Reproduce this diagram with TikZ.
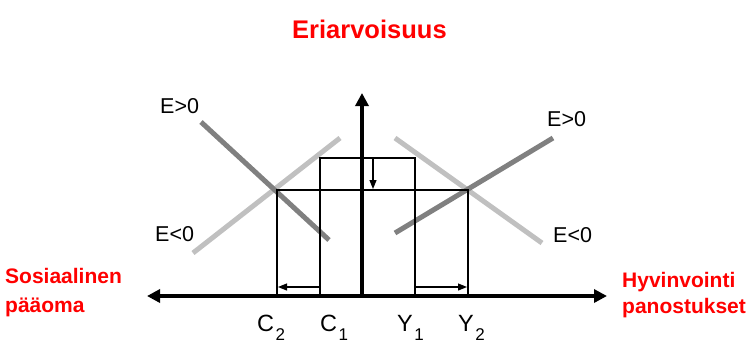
\documentclass[tikz,border=0pt]{standalone}
\usepackage{fontspec}
\setmainfont{Liberation Sans}
\usetikzlibrary{arrows.meta}
\definecolor{darkg}{HTML}{808080}
\definecolor{lightg}{HTML}{C0C0C0}
\definecolor{myred}{HTML}{FF0000}
\tikzset{
  axis/.style={line width=3.5pt,-{Triangle[length=13pt,width=13pt]}},
  thin/.style={line width=1.1pt},
  small/.style={line width=1.1pt,-{Triangle[length=9pt,width=7pt]}},
  dline/.style={line width=5pt,darkg},
  lline/.style={line width=5pt,lightg},
  lbl/.style={inner sep=0pt,anchor=base west,font=\fontsize{21.5}{21.5}\selectfont},
  redlbl/.style={inner sep=0pt,anchor=base west,text=myred,font=\fontsize{21}{21}\selectfont\bfseries},
  ax/.style={inner sep=0pt,anchor=base west,font=\fontsize{23.5}{23.5}\selectfont},
}
\newcommand{\subl}[1]{\hspace{1.5pt}\raisebox{-9pt}{\fontsize{17}{17}\selectfont #1}}
\begin{document}
\begin{tikzpicture}[x=1pt,y=-1pt]
\useasboundingbox (0,0) rectangle (756,341);
% coordinates
\coordinate (O) at (362,296);
\coordinate (Vt) at (362,93);
\coordinate (Hl) at (147,296);
\coordinate (Hr) at (607,296);
\coordinate (c2b) at (277,296);
\coordinate (c2t) at (277,190);
\coordinate (c1b) at (320,296);
\coordinate (c1t) at (320,158);
\coordinate (y1b) at (415,296);
\coordinate (y1t) at (415,158);
\coordinate (y2b) at (468,296);
\coordinate (y2t) at (468,190);
\coordinate (la1) at (320,287);
\coordinate (la2) at (278,287);
\coordinate (ra1) at (415,287);
\coordinate (ra2) at (467,287);
\coordinate (da1) at (373,158);
\coordinate (da2) at (373,189);
% gray lines
\coordinate (ld1) at (201,122);
\coordinate (ld2) at (329,240);
\coordinate (ll1) at (193,253);
\coordinate (ll2) at (340,138);
\coordinate (rl1) at (395,138);
\coordinate (rl2) at (542,243);
\coordinate (rd1) at (395,233);
\coordinate (rd2) at (553,138);
\draw[lline] (ll1) -- (ll2);
\draw[dline] (ld1) -- (ld2);
\draw[lline] (rl1) -- (rl2);
\draw[dline] (rd1) -- (rd2);
% boxes
\draw[thin] (c1b) -- (c1t) -- (y1t) -- (y1b);
\draw[thin] (c2b) -- (c2t) -- (y2t) -- (y2b);
% small arrows
\draw[small] (la1) -- (la2);
\draw[small] (ra1) -- (ra2);
\draw[small] (da1) -- (da2);
% axes
\draw[axis] (O) -- (Vt);
\draw[axis] (O) -- (Hl);
\draw[axis] (O) -- (Hr);
% labels
\node[redlbl,font=\fontsize{25.5}{25.5}\selectfont\bfseries] (title) at (292,38) {Eriarvoisuus};
\node[redlbl] (sos) at (5,283) {Sosiaalinen};
\node[redlbl] (paa) at (5,312) {pääoma};
\node[redlbl] (hyv) at (622,287) {Hyvinvointi};
\node[redlbl] (pan) at (622,313) {panostukset};
\node[lbl] (e1) at (160,113) {E>0};
\node[lbl] (e2) at (155,241) {E<0};
\node[lbl] (e3) at (547,126) {E>0};
\node[lbl] (e4) at (553,242) {E<0};
\node[ax] (C2) at (257,331) {C\subl{2}};
\node[ax] (C1) at (320,331) {C\subl{1}};
\node[ax] (Y1) at (397,331) {Y\subl{1}};
\node[ax] (Y2) at (458,331) {Y\subl{2}};
\end{tikzpicture}
\end{document}
